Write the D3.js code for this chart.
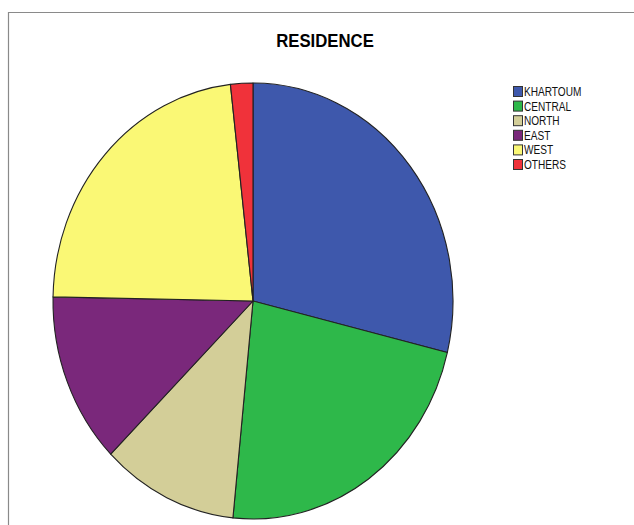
<!DOCTYPE html>
<html>
<head>
<meta charset="utf-8">
<script src="https://cdn.jsdelivr.net/npm/d3@7"></script>
<style>
  html, body { margin: 0; padding: 0; background: #fff; }
  svg { display: block; }
  text { font-family: "Liberation Sans", Arial, sans-serif; }
</style>
</head>
<body>
<svg id="chart" width="634" height="525"></svg>
<script>
const title = "RESIDENCE";
const categories = ["KHARTOUM", "CENTRAL", "NORTH", "EAST", "WEST", "OTHERS"];
const values = [28.8, 22.8, 11.0, 12.7, 22.9, 1.8];
const colors = ["#3E58AC", "#2EB84A", "#D3CE98", "#7A287B", "#FAF875", "#F0323A"];

const svg = d3.select("#chart");
const W = 634, H = 525;

// frame
svg.append("path")
  .attr("d", `M8.5,${H} L8.5,12.5 L${W},12.5`)
  .attr("fill", "none").attr("stroke", "#8a8a8a").attr("stroke-width", 1.2);

// title
const t = svg.append("text")
  .attr("x", 325).attr("y", 47)
  .attr("text-anchor", "middle")
  .attr("font-size", 18).attr("font-weight", "bold")
  .attr("fill", "#000")
  .text(title);
t.attr("textLength", t.node().getComputedTextLength() * 0.93)
 .attr("lengthAdjust", "spacingAndGlyphs");

// pie
const cx = 253, cy = 301, rx = 200, ry = 218;
const pie = d3.pie().sort(null).value(d => d.v);
const arcs = pie(categories.map((c, i) => ({c, v: values[i]})));
const arc = d3.arc().innerRadius(0).outerRadius(rx);
const color = d3.scaleOrdinal().domain(categories).range(colors);

const g = svg.append("g")
  .attr("transform", `translate(${cx},${cy}) scale(1,${ry / rx})`);
g.selectAll("path").data(arcs).join("path")
  .attr("d", arc)
  .attr("fill", d => color(d.data.c))
  .attr("stroke", "#222")
  .attr("stroke-width", 1.1)
  .attr("vector-effect", "non-scaling-stroke")
  .attr("stroke-linejoin", "round");

// legend
const legend = svg.append("g").attr("transform", "translate(513,86)");
const row = legend.selectAll("g").data(categories).join("g")
  .attr("transform", (d, i) => `translate(0,${i * 14.6})`);
row.append("rect")
  .attr("x", 0.5).attr("y", 0.5).attr("width", 9).attr("height", 10)
  .attr("fill", d => color(d)).attr("stroke", "#333").attr("stroke-width", 1);
row.append("text")
  .attr("x", 11).attr("y", 10)
  .attr("font-size", 12).attr("fill", "#111")
  .text(d => d)
  .each(function() {
    const L = this.getComputedTextLength();
    d3.select(this).attr("textLength", L * 0.84).attr("lengthAdjust", "spacingAndGlyphs");
  });
</script>
</body>
</html>
